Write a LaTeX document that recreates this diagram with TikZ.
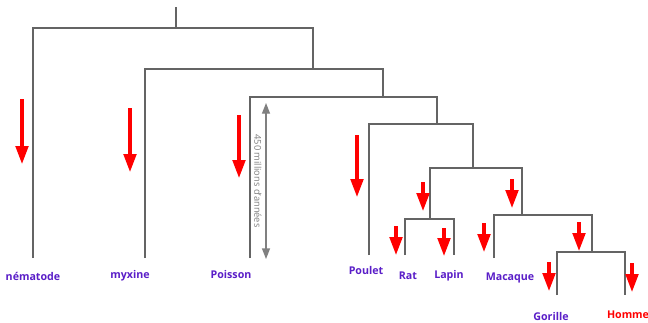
\documentclass[tikz,border=0pt]{standalone}
\usepackage{fontspec}
\setmainfont{Open Sans}
\usetikzlibrary{arrows.meta}
\definecolor{lbl}{RGB}{90,30,200}
\definecolor{treeline}{RGB}{100,100,100}
\begin{document}
\begin{tikzpicture}[x=0.75pt,y=-0.75pt,
  branch/.style={draw=treeline,line width=0.8pt},
  evo/.style={draw=red,line width=2.3pt,-{Triangle[length=13.5pt,width=9.5pt]}},
  taxon/.style={font=\bfseries\fontsize{8}{9}\selectfont,text=lbl,inner sep=0pt,anchor=base},
  dimline/.style={draw=gray,line width=1pt,{Triangle[length=8pt,width=6pt]}-{Triangle[length=8pt,width=6pt]}},
  dimtext/.style={font=\fontsize{7}{8}\selectfont,text=gray,rotate=-90,inner sep=0pt}
]
\useasboundingbox[fill=white] (0,0) rectangle (648,322);

% coordinates of the tree
\coordinate (top) at (176,7);
\coordinate (rootj) at (176,28);
\coordinate (aL) at (33,28);   \coordinate (aR) at (313,28);
\coordinate (nemE) at (33,258);
\coordinate (bL) at (145,69);  \coordinate (bR) at (383,69);
\coordinate (aRb) at (313,69);
\coordinate (myxE) at (145,258);
\coordinate (cL) at (250,97);  \coordinate (cR) at (437,97);
\coordinate (bRb) at (383,97);
\coordinate (poiE) at (250,258);
\coordinate (dL) at (369,124); \coordinate (dR) at (473,124);
\coordinate (cRb) at (437,124);
\coordinate (pouE) at (369,255);
\coordinate (eL) at (430,168); \coordinate (eR) at (522,168);
\coordinate (dRb) at (473,168);
\coordinate (fL) at (405,219); \coordinate (fR) at (454,219);
\coordinate (eLb) at (430,219);
\coordinate (ratE) at (405,255); \coordinate (lapE) at (454,255);
\coordinate (gL) at (494,215); \coordinate (gR) at (592,215);
\coordinate (eRb) at (522,215);
\coordinate (macE) at (494,258);
\coordinate (hL) at (557,252); \coordinate (hR) at (625,252);
\coordinate (gRb) at (592,252);
\coordinate (gorE) at (557,295); \coordinate (homE) at (625,295);

% tree
\draw[branch] (top) -- (rootj);
\draw[branch] (nemE) -- (aL) -- (aR) -- (aRb);
\draw[branch] (myxE) -- (bL) -- (bR) -- (bRb);
\draw[branch] (poiE) -- (cL) -- (cR) -- (cRb);
\draw[branch] (pouE) -- (dL) -- (dR) -- (dRb);
\draw[branch] (eLb) -- (eL) -- (eR) -- (eRb);
\draw[branch] (ratE) -- (fL) -- (fR) -- (lapE);
\draw[branch] (macE) -- (gL) -- (gR) -- (gRb);
\draw[branch] (gorE) -- (hL) -- (hR) -- (homE);

% labels
\node[taxon] (nem) at (33,280.5) {nématode};
\node[taxon] (myx) at (130,278) {myxine};
\node[taxon] (poi) at (231,278) {Poisson};
\node[taxon] (pou) at (366,274) {Poulet};
\node[taxon] (rat) at (408,279) {Rat};
\node[taxon] (lap) at (449,278) {Lapin};
\node[taxon] (mac) at (510,280) {Macaque};
\node[taxon] (gor) at (551,320) {Gorille};
\node[taxon,text=red] (hom) at (628,318) {Homme};

% red arrows
\coordinate (r1s) at (22,99);   \coordinate (r1e) at (22,164);
\coordinate (r2s) at (130,108); \coordinate (r2e) at (130,172);
\coordinate (r3s) at (239,115); \coordinate (r3e) at (239,178);
\coordinate (r4s) at (357,135); \coordinate (r4e) at (357,197);
\coordinate (r5s) at (423,182); \coordinate (r5e) at (423,211);
\coordinate (r6s) at (512,179); \coordinate (r6e) at (512,208);
\coordinate (r7s) at (396,226); \coordinate (r7e) at (396,255);
\coordinate (r8s) at (444,228); \coordinate (r8e) at (444,256);
\coordinate (r9s) at (484,223); \coordinate (r9e) at (484,252);
\coordinate (r10s) at (579,222); \coordinate (r10e) at (579,251);
\coordinate (r11s) at (549,262); \coordinate (r11e) at (549,291);
\coordinate (r12s) at (632,263); \coordinate (r12e) at (632,292);
\foreach \i in {1,...,12} {\draw[evo] (r\i s) -- (r\i e);}

% time scale
\coordinate (dtop) at (266,103);
\coordinate (dbot) at (266,259);
\draw[dimline] (dtop) -- (dbot);
\node[dimtext] (dlab) at (258,181) {450 millions d'années};
\end{tikzpicture}
\end{document}
